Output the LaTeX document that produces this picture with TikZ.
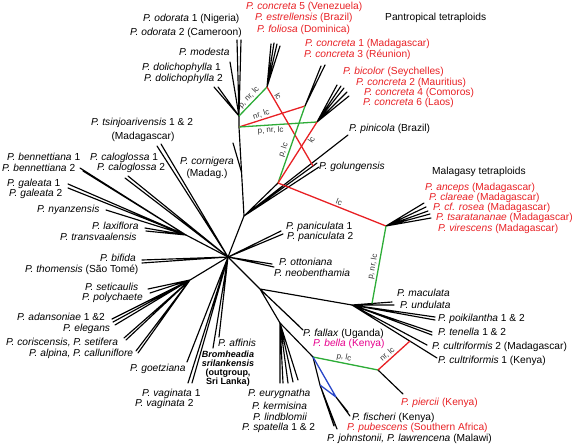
\documentclass[tikz,border=0pt]{standalone}
\usepackage{fontspec}
\setmainfont{Liberation Sans}
\definecolor{hred}{RGB}{232,32,36}
\definecolor{hgreen}{RGB}{45,172,55}
\definecolor{hblue}{RGB}{40,70,200}
\definecolor{hpink}{RGB}{230,0,140}
\tikzset{
  tree/.style = {line width = 1.15pt, line cap = round},
  lnk/.style = {line width = 1.3pt},
  sp/.style = {anchor = base west, yshift = -3.6pt, inner sep = 0pt, font = \fontsize{10.2}{11}\selectfont},
  spr/.style = {sp, text = hred},
  spc/.style = {sp, anchor = base},
  ed/.style = {font = \fontsize{8}{8}\selectfont, text = black!80, inner sep = 1.2pt, sloped},
}
\begin{document}
\begin{tikzpicture}[x = 1pt, y = -1pt]
\useasboundingbox (0,0) rectangle (576,445);
% inner nodes
\coordinate (hub) at (228,257);
\coordinate (nA) at (244,216);
\coordinate (nR) at (239,127);
\coordinate (nB) at (239,116);
\coordinate (nQ) at (241.5,172);
\coordinate (n5) at (267,87);
\coordinate (n13) at (305,106);
\coordinate (nbi) at (317,122);
\coordinate (nC) at (278,183);
\coordinate (nD) at (313,166);
\coordinate (nE) at (386,226);
\coordinate (nN) at (186,235);
\coordinate (nO) at (190,280);
\coordinate (nP) at (260,289);
\coordinate (nF) at (352,305);
\coordinate (nG) at (372,303.5);
\coordinate (nT) at (410,341);
\coordinate (nH) at (378,370);
\coordinate (nM) at (280,323);
\coordinate (nJ) at (313,357);
\coordinate (nK) at (320,385);
\coordinate (nL) at (336,397);
% leaf ends
\coordinate (lod1) at (237,40);
\coordinate (lod2) at (241,40);
\coordinate (lmo) at (230,62);
\coordinate (ldo1) at (214,87);
\coordinate (ldo2) at (218,87);
\coordinate (l51) at (271,44);
\coordinate (l52) at (274,43);
\coordinate (l53) at (277,44);
\coordinate (l54) at (280,46);
\coordinate (l11) at (321,66);
\coordinate (l12) at (325,65);
\coordinate (lb1) at (337,85);
\coordinate (lb2) at (341,86);
\coordinate (lb3) at (344,88);
\coordinate (lb4) at (347,92);
\coordinate (lb5) at (349,96);
\coordinate (lpi) at (348,135);
\coordinate (lgo1) at (317,163);
\coordinate (lgo2) at (319,167);
\coordinate (lco) at (233,143);
\coordinate (le1) at (424,203);
\coordinate (le2) at (426,207);
\coordinate (le3) at (428,211);
\coordinate (le4) at (430,214);
\coordinate (le5) at (431,218);
\coordinate (lts1) at (157,146);
\coordinate (lts2) at (161,144);
\coordinate (lca1) at (125,178);
\coordinate (lca2) at (128,176);
\coordinate (lbe1) at (80,168);
\coordinate (lbe2) at (83,171);
\coordinate (lga1) at (68,184);
\coordinate (lga2) at (68,188);
\coordinate (lny) at (106,210);
\coordinate (lla1) at (145,228);
\coordinate (lla2) at (146,231);
\coordinate (lbf1) at (142,260);
\coordinate (lbf2) at (142,263);
\coordinate (lse1) at (148,289);
\coordinate (lse2) at (150,293);
\coordinate (lad1) at (112,319);
\coordinate (lad2) at (113,322);
\coordinate (lad3) at (115,325);
\coordinate (lcr1) at (124,338);
\coordinate (lcr2) at (126,340);
\coordinate (lal1) at (136,351);
\coordinate (lal2) at (138,353);
\coordinate (lgz) at (187,362);
\coordinate (lva1) at (188,383);
\coordinate (lva2) at (192,383);
\coordinate (lbr) at (213,348);
\coordinate (laf) at (219,337);
\coordinate (lpa1) at (281,231);
\coordinate (lpa2) at (283,234);
\coordinate (lot1) at (272,264);
\coordinate (lot2) at (274,267);
\coordinate (lfa) at (299,326);
\coordinate (lbl) at (303,330);
\coordinate (lma) at (392,302);
\coordinate (lun) at (394,305);
\coordinate (lpk1) at (435,317);
\coordinate (lpk2) at (435,320);
\coordinate (lte1) at (432,332);
\coordinate (lte2) at (432,335);
\coordinate (lc2) at (427,345);
\coordinate (lc1) at (437,358);
\coordinate (lpc) at (403,394);
\coordinate (lme1) at (280,383);
\coordinate (lme2) at (283,383);
\coordinate (lme3) at (288,383);
\coordinate (lme4) at (293,382);
\coordinate (lme5) at (298,380);
\coordinate (ljo1) at (334,426);
\coordinate (ljo2) at (337,429);
\coordinate (lfi) at (348,412);
\coordinate (lpu) at (350,416);
% tree
\draw[tree] (hub) -- (nA) -- (nR) -- (nB);
\draw[tree] (nB) -- (lod1) (nB) -- (lod2) (nB) -- (lmo) (nB) -- (ldo1) (nB) -- (ldo2);
\draw[tree] (n5) -- (l51) (n5) -- (l52) (n5) -- (l53) (n5) -- (l54);
\draw[tree] (n13) -- (l11) (n13) -- (l12);
\draw[tree] (nbi) -- (lb1) (nbi) -- (lb2) (nbi) -- (lb3) (nbi) -- (lb4) (nbi) -- (lb5);
\draw[tree] (nA) -- (nC) (nA) -- (lpi) (nA) -- (nD) -- (lgo1) (nA) -- (lgo2);
\draw[tree] (nQ) -- (lco);
\draw[tree] (nE) -- (le1) (nE) -- (le2) (nE) -- (le3) (nE) -- (le4) (nE) -- (le5);
\draw[tree] (hub) -- (lts1) (hub) -- (lts2) (hub) -- (lca1) (hub) -- (lca2);
\draw[tree] (hub) -- (nN);
\draw[tree] (nN) -- (lbe1) (nN) -- (lbe2) (nN) -- (lga1) (nN) -- (lga2) (nN) -- (lny) (nN) -- (lla1) (nN) -- (lla2);
\draw[tree] (hub) -- (lbf1) (hub) -- (lbf2);
\draw[tree] (hub) -- (nO);
\draw[tree] (nO) -- (lse1) (nO) -- (lse2) (nO) -- (lad1) (nO) -- (lad2) (nO) -- (lad3) (nO) -- (lcr1) (nO) -- (lcr2) (nO) -- (lal1) (nO) -- (lal2);
\draw[tree] (hub) -- (lgz) (hub) -- (lva1) (hub) -- (lva2) (hub) -- (lbr) (hub) -- (laf);
\draw[tree] (hub) -- (lpa1) (hub) -- (lpa2) (hub) -- (lot1) (hub) -- (lot2);
\draw[tree] (hub) -- (nP) -- (nF) (nP) -- (nM) (nP) -- (lfa) (nP) -- (lbl);
\draw[tree] (nF) -- (lma) (nF) -- (lun) (nF) -- (lpk1) (nF) -- (lpk2) (nF) -- (lte1) (nF) -- (lte2) (nF) -- (lc2) (nF) -- (lc1);
\draw[tree] (nM) -- (lme1) (nM) -- (lme2) (nM) -- (lme3) (nM) -- (lme4) (nM) -- (lme5);
\draw[tree] (nM) -- (nJ) -- (nK) (nK) -- (ljo1) (nK) -- (ljo2) (nL) -- (lfi) (nL) -- (lpu);
\draw[tree] (nH) -- (lpc);
% reticulations
\draw[lnk, hgreen] (nB) -- node[ed, above] {p, nr, lc} (n5);
\draw[lnk, hred] (nR) -- node[ed, above, pos = 0.36] {nr, lc} (n13);
\draw[lnk, hgreen] (nR) -- node[ed, below, pos = 0.4] {p, nr, lc} (nbi);
\draw[lnk, hred] (n5) -- node[ed, above, pos = 0.15] {lc} (nD);
\draw[lnk, hgreen] (nC) -- node[ed, above, pos = 0.4] {p, lc} (n13);
\draw[lnk, hred] (nC) -- node[ed, below, pos = 0.75] {lc} (nbi);
\draw[lnk, hred] (nC) -- node[ed, above, pos = 0.55] {lc} (nE);
\draw[lnk, hgreen] (nG) -- node[ed, above, pos = 0.46] {p, nr, lc} (nE);
\draw[lnk, hgreen] (nJ) -- node[ed, above, pos = 0.46] {p, lc} (nH);
\draw[lnk, hred] (nH) -- node[ed, above, pos = 0.4] {nr, lc} (nT);
\draw[lnk, hblue] (nJ) -- (nL) (nK) -- (nL);
% labels
\node[sp] (t1) at (143,18) {\textit{P. odorata} 1 (Nigeria)};
\node[sp] (t2) at (130,32) {\textit{P. odorata} 2 (Cameroon)};
\node[sp] (t3) at (179,52) {\textit{P. modesta}};
\node[sp] (t4) at (142,67) {\textit{P. dolichophylla} 1};
\node[sp] (t5) at (144,78) {\textit{P. dolichophylla} 2};
\node[sp] (t6) at (91,122) {\textit{P. tsinjoarivensis} 1 \& 2};
\node[spc] (t7) at (143,136) {(Madagascar)};
\node[sp] (t8) at (180,161) {\textit{P. cornigera}};
\node[spc] (t9) at (207,173) {(Madag.)};
\node[sp] (t10) at (7,157) {\textit{P. bennettiana} 1};
\node[sp] (t11) at (2,168) {\textit{P. bennettiana} 2};
\node[sp] (t12) at (90,157) {\textit{P. caloglossa} 1};
\node[sp] (t13) at (97,167) {\textit{P. caloglossa} 2};
\node[sp] (t14) at (7,183) {\textit{P. galeata} 1};
\node[sp] (t15) at (9,193) {\textit{P. galeata} 2};
\node[sp] (t16) at (37,209) {\textit{P. nyanzensis}};
\node[sp] (t17) at (92,226) {\textit{P. laxiflora}};
\node[sp] (t18) at (60,237) {\textit{P. transvaalensis}};
\node[sp] (t19) at (100,258) {\textit{P. bifida}};
\node[sp] (t20) at (25,269) {\textit{P. thomensis} (São Tomé)};
\node[sp] (t21) at (85,287) {\textit{P. seticaulis}};
\node[sp] (t22) at (82,297) {\textit{P. polychaete}};
\node[sp] (t23) at (17,317) {\textit{P. adansoniae} 1 \&2};
\node[sp] (t24) at (63,328) {\textit{P. elegans}};
\node[sp] (t25) at (6,342) {\textit{P. coriscensis, P. setifera}};
\node[sp] (t26) at (29,353) {\textit{P. alpina, P. calluniflore}};
\node[sp] (t27) at (130,368) {\textit{P. goetziana}};
\node[sp] (t28) at (142,393) {\textit{P. vaginata} 1};
\node[sp] (t29) at (135,403) {\textit{P. vaginata} 2};
\node[sp] (t30) at (218,343) {\textit{P. affinis}};
\node[font = \fontsize{9}{9}\selectfont\bfseries, align = center, anchor = north, inner sep = 0pt] (t31) at (228,351) {\textit{Bromheadia}\\\textit{srilankensis}\\(outgroup,\\Sri Lanka)};
\node[sp] (t32) at (248,393) {\textit{P. eurygnatha}};
\node[sp] (t33) at (252,406) {\textit{P. kermisina}};
\node[sp] (t34) at (253,417) {\textit{P. lindblomii}};
\node[sp] (t35) at (242,427) {\textit{P. spatella} 1 \& 2};
\node[sp] (t36) at (303,333) {\textit{P. fallax} (Uganda)};
\node[sp, text = hpink] (t37) at (313,343) {\textit{P. bella} (Kenya)};
\node[sp] (t38) at (352,417) {\textit{P. fischeri} (Kenya)};
\node[spr] (t39) at (347,427) {\textit{P. pubescens} (Southern Africa)};
\node[sp] (t40) at (327,438) {\textit{P. johnstonii, P. lawrencena} (Malawi)};
\node[sp] (t41) at (397,293) {\textit{P. maculata}};
\node[sp] (t42) at (400,305) {\textit{P. undulata}};
\node[sp] (t43) at (438,318) {\textit{P. poikilantha} 1 \& 2};
\node[sp] (t44) at (438,332) {\textit{P. tenella} 1 \& 2};
\node[sp] (t45) at (432,346) {\textit{P. cultriformis} 2 (Madagascar)};
\node[sp] (t46) at (438,360) {\textit{P. cultriformis} 1 (Kenya)};
\node[spr] (t47) at (401,402) {\textit{P. piercii} (Kenya)};
\node[sp] (t48) at (286,226) {\textit{P. paniculata} 1};
\node[sp] (t49) at (287,236) {\textit{P. paniculata} 2};
\node[sp] (t50) at (279,262) {\textit{P. ottoniana}};
\node[sp] (t51) at (274,273) {\textit{P. neobenthamia}};
\node[sp] (t52) at (319,166) {\textit{P. golungensis}};
\node[sp] (t53) at (349,128) {\textit{P. pinicola} (Brazil)};
\node[sp] (t54) at (385,17) {Pantropical tetraploids};
\node[sp] (t55) at (432,171) {Malagasy tetraploids};
\node[spr] (t56) at (246,6) {\textit{P. concreta} 5 (Venezuela)};
\node[spr] (t57) at (255,17) {\textit{P. estrellensis} (Brazil)};
\node[spr] (t58) at (257,29) {\textit{P. foliosa} (Dominica)};
\node[spr] (t59) at (305,43) {\textit{P. concreta} 1 (Madagascar)};
\node[spr] (t60) at (304,54) {\textit{P. concreta} 3 (Réunion)};
\node[spr] (t61) at (343,71) {\textit{P. bicolor} (Seychelles)};
\node[spr] (t62) at (356,82) {\textit{P. concreta} 2 (Mauritius)};
\node[spr] (t63) at (364,92) {\textit{P. concreta} 4 (Comoros)};
\node[spr] (t64) at (363,102) {\textit{P. concreta} 6 (Laos)};
\node[spr] (t65) at (425,187) {\textit{P. anceps} (Madagascar)};
\node[spr] (t66) at (429,197) {\textit{P. clareae} (Madagascar)};
\node[spr] (t67) at (433,207) {\textit{P. cf. rosea} (Madagascar)};
\node[spr] (t68) at (436,217) {\textit{P. tsaratananae} (Madagascar)};
\node[spr] (t69) at (438,228) {\textit{P. virescens} (Madagascar)};
\end{tikzpicture}
\end{document}
